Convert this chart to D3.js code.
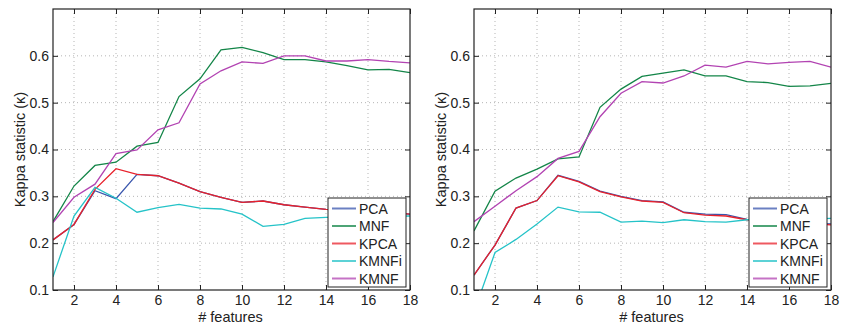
<!DOCTYPE html>
<html>
<head>
<meta charset="utf-8">
<script src="https://cdn.jsdelivr.net/npm/d3@7"></script>
<style>
  body { margin: 0; background: #fff; }
  svg { display: block; font-family: "Liberation Sans", Arial, sans-serif; }
</style>
</head>
<body>
<div id="chart"></div>
<script>
// features 1..18
const features = d3.range(1, 19);
const seriesNames = ['PCA', 'MNF', 'KPCA', 'KMNFi', 'KMNF'];
const colors = ['#3a56ad', '#138548', '#e8212b', '#25c3c8', '#b243b2'];
const yTicks = [0.1, 0.2, 0.3, 0.4, 0.5, 0.6];
const xTicks = [2, 4, 6, 8, 10, 12, 14, 16, 18];

// left panel
const leftPCA   = [0.207, 0.240, 0.312, 0.295, 0.347, 0.344, 0.328, 0.310, 0.298, 0.287, 0.290, 0.282, 0.277, 0.272, 0.270, 0.267, 0.265, 0.262];
const leftMNF   = [0.246, 0.322, 0.366, 0.373, 0.407, 0.415, 0.513, 0.551, 0.613, 0.618, 0.607, 0.592, 0.592, 0.587, 0.579, 0.570, 0.571, 0.564];
const leftKPCA  = [0.207, 0.240, 0.315, 0.359, 0.347, 0.344, 0.328, 0.310, 0.298, 0.287, 0.290, 0.282, 0.277, 0.272, 0.270, 0.267, 0.265, 0.262];
const leftKMNFi = [0.128, 0.258, 0.319, 0.296, 0.266, 0.276, 0.283, 0.275, 0.273, 0.262, 0.236, 0.240, 0.253, 0.255, 0.256, 0.257, 0.257, 0.258];
const leftKMNF  = [0.244, 0.298, 0.326, 0.391, 0.399, 0.442, 0.457, 0.540, 0.568, 0.587, 0.584, 0.600, 0.600, 0.589, 0.589, 0.592, 0.588, 0.585];

// right panel
const rightPCA   = [0.132, 0.196, 0.275, 0.291, 0.345, 0.332, 0.311, 0.300, 0.291, 0.288, 0.266, 0.262, 0.261, 0.251, 0.248, 0.245, 0.243, 0.241];
const rightMNF   = [0.226, 0.311, 0.339, 0.358, 0.380, 0.384, 0.490, 0.529, 0.556, 0.563, 0.570, 0.557, 0.557, 0.545, 0.543, 0.535, 0.536, 0.541];
const rightKPCA  = [0.132, 0.196, 0.275, 0.291, 0.344, 0.331, 0.310, 0.299, 0.290, 0.287, 0.265, 0.260, 0.258, 0.250, 0.247, 0.244, 0.242, 0.239];
const rightKMNFi = [0.053, 0.180, 0.208, 0.241, 0.277, 0.267, 0.266, 0.245, 0.247, 0.244, 0.250, 0.246, 0.245, 0.250, 0.251, 0.252, 0.252, 0.253];
const rightKMNF  = [0.246, 0.279, 0.312, 0.342, 0.381, 0.396, 0.470, 0.520, 0.545, 0.542, 0.557, 0.580, 0.576, 0.588, 0.583, 0.586, 0.588, 0.576];

const W = 850, H = 325;
const svg = d3.select('#chart').append('svg')
  .attr('width', W).attr('height', H);

function panel(id, left, series) {
  const top = 9, bottom = 290, width = 357;
  const x = d3.scaleLinear().domain([1, 18]).range([left, left + width]);
  const y = d3.scaleLinear().domain([0.1, 0.7]).range([bottom, top]);
  const g = svg.append('g');

  svg.append('clipPath').attr('id', 'clip' + id)
    .append('rect').attr('x', left).attr('y', top)
    .attr('width', width).attr('height', bottom - top);

  // dotted grid
  g.selectAll('.vg').data(xTicks.filter(d => d < 18)).join('line')
    .attr('x1', d => x(d)).attr('x2', d => x(d))
    .attr('y1', top).attr('y2', bottom)
    .attr('stroke', '#b5b5b5').attr('stroke-width', 1)
    .attr('stroke-dasharray', '1,3');
  g.selectAll('.hg').data(yTicks.filter(d => d > 0.1)).join('line')
    .attr('x1', left).attr('x2', left + width)
    .attr('y1', d => y(d)).attr('y2', d => y(d))
    .attr('stroke', '#b5b5b5').attr('stroke-width', 1)
    .attr('stroke-dasharray', '1,3');

  // lines
  const line = d3.line().x((d, i) => x(features[i])).y(d => y(d));
  const lg = g.append('g').attr('clip-path', 'url(#clip' + id + ')');
  series.forEach((s, i) => {
    lg.append('path').datum(s)
      .attr('d', line)
      .attr('fill', 'none')
      .attr('stroke', colors[i])
      .attr('stroke-width', 1.3);
  });

  // axes, ticks pointing inward
  const axL = g.append('g').attr('transform', 'translate(' + left + ',0)')
    .call(d3.axisLeft(y).tickValues(yTicks).tickSize(-5).tickPadding(4).tickFormat(d3.format('.1f')));
  const axR = g.append('g').attr('transform', 'translate(' + (left + width) + ',0)')
    .call(d3.axisRight(y).tickValues(yTicks).tickSize(-5).tickFormat(''));
  const axB = g.append('g').attr('transform', 'translate(0,' + bottom + ')')
    .call(d3.axisBottom(x).tickValues(xTicks).tickSize(-5).tickPadding(5));
  const axT = g.append('g').attr('transform', 'translate(0,' + top + ')')
    .call(d3.axisTop(x).tickValues(xTicks).tickSize(-5).tickFormat(''));
  [axL, axR, axB, axT].forEach(a => {
    a.select('.domain').remove();
    a.selectAll('line').attr('stroke', '#222');
    a.selectAll('text').attr('font-size', 14).attr('fill', '#222')
      .attr('font-family', '"Liberation Sans", Arial, sans-serif');
  });

  // frame
  g.append('rect').attr('x', left).attr('y', top)
    .attr('width', width).attr('height', bottom - top)
    .attr('fill', 'none').attr('stroke', '#222').attr('stroke-width', 1.2);

  // labels
  g.append('text').attr('x', left + width / 2 - 1).attr('y', 321.5)
    .attr('text-anchor', 'middle').attr('font-size', 14.5).attr('fill', '#222')
    .text('# features');
  g.append('text')
    .attr('transform', 'translate(' + (left - 28) + ',' + ((top + bottom) / 2) + ') rotate(-90)')
    .attr('text-anchor', 'middle').attr('font-size', 14.5).attr('fill', '#222')
    .text('Kappa statistic (κ)');

  // legend
  const lx = left + 275, ly = 198;
  const leg = g.append('g').attr('transform', 'translate(' + lx + ',' + ly + ')');
  leg.append('rect').attr('width', 78).attr('height', 89)
    .attr('fill', '#fff').attr('stroke', '#222').attr('stroke-width', 1);
  seriesNames.forEach((n, i) => {
    const yy = 10.5 + i * 17.5;
    leg.append('line').attr('x1', 4).attr('x2', 28).attr('y1', yy).attr('y2', yy)
      .attr('stroke', colors[i]).attr('stroke-width', 2).attr('stroke-opacity', 0.75);
    leg.append('text').attr('x', 31).attr('y', yy + 5)
      .attr('font-size', 14).attr('fill', '#222').text(n);
  });
}

panel('L', 53, [leftPCA, leftMNF, leftKPCA, leftKMNFi, leftKMNF]);
panel('R', 474, [rightPCA, rightMNF, rightKPCA, rightKMNFi, rightKMNF]);
</script>
</body>
</html>
